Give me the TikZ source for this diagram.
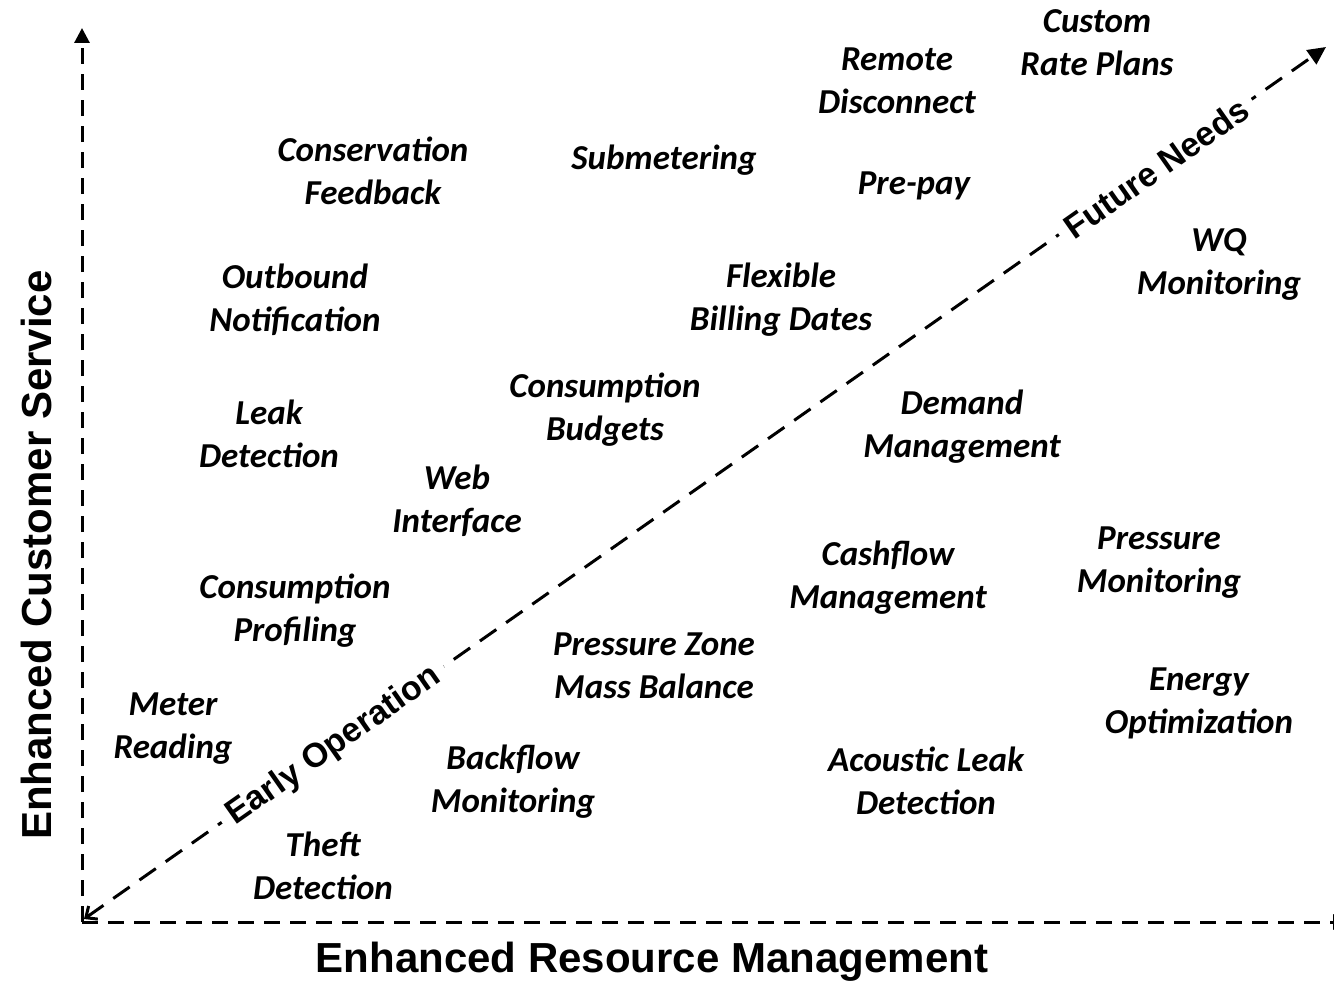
\documentclass[tikz,border=0pt]{standalone}
\usepackage{fontspec}
\setmainfont{Carlito}
\newfontfamily\axisfont{Liberation Sans}
\usetikzlibrary{arrows.meta}
\tikzset{
  item/.style={font=\fontsize{35}{43}\selectfont\bfseries\itshape, align=center, inner sep=0pt, text=black},
  axislabel/.style={font=\axisfont\fontsize{42}{48}\selectfont\bfseries, inner sep=0pt},
  diaglabel/.style={font=\axisfont\fontsize{34}{40}\selectfont\bfseries, fill=white, inner xsep=9pt, inner ysep=3pt, rotate=35.06},
  axisline/.style={line width=3pt, dash pattern=on 16pt off 10pt},
  diagline/.style={line width=3pt, dash pattern=on 20pt off 12pt},
}
\begin{document}
\begin{tikzpicture}[x=1pt,y=-1pt]
\useasboundingbox (0,0) rectangle (1334,982);
\begin{scope}
\clip (0,0) rectangle (1334,982);
% axes
\coordinate (O) at (82,922);
\coordinate (ytop) at (82,28);
\coordinate (xend) at (1348,922);
\draw[axisline,-{Triangle[length=15pt,width=15pt]}] (O) -- (ytop);
\draw[axisline,-{Triangle[length=15pt,width=15pt]}] (O) -- (xend);
% diagonal
\coordinate (dA) at (84,919);
\coordinate (dB) at (1326,47);
\draw[diagline,{Straight Barb[length=9pt,width=16pt,line width=3pt]}-{Triangle[length=18pt,width=17pt]}] (dA) -- (dB);
\end{scope}
\node[diaglabel] (early) at (334,746) {Early Operation};
\node[diaglabel] (future) at (1156,168) {Future Needs};
% axis labels
\node[axislabel] (xlab) at (652,962) {Enhanced Resource Management};
\node[axislabel, rotate=90] (ylab) at (36,555) {Enhanced Customer Service};
% items
\node[item] (custom) at (1097,43) {Custom\\Rate Plans};
\node[item] (remote) at (897,81) {Remote\\Disconnect};
\node[item] (conserv) at (373,171) {Conservation\\Feedback};
\node[item] (subm) at (664,160) {Submetering};
\node[item] (prepay) at (914,186) {Pre-pay};
\node[item] (wq) at (1219,264) {WQ\\Monitoring};
\node[item] (outb) at (295,300) {Outbound\\Notification};
\node[item] (flex) at (781,300) {Flexible\\Billing Dates};
\node[item] (cbud) at (605,410) {Consumption\\Budgets};
\node[item] (demand) at (962,427) {Demand\\Management};
\node[item] (leak) at (269,434) {Leak\\Detection};
\node[item] (web) at (457,501) {Web\\Interface};
\node[item] (cash) at (888,578) {Cashflow\\Management};
\node[item] (pmon) at (1159,563) {Pressure\\Monitoring};
\node[item] (cprof) at (295,611) {Consumption\\Profiling};
\node[item] (pzone) at (654,666) {Pressure Zone\\Mass Balance};
\node[item] (energy) at (1199,703) {Energy\\Optimization};
\node[item] (meter) at (173,729) {Meter\\Reading};
\node[item] (back) at (513,782) {Backflow\\Monitoring};
\node[item] (acoustic) at (926,781) {Acoustic Leak\\Detection};
\node[item] (theft) at (323,866) {Theft\\Detection};
\end{tikzpicture}
\end{document}
